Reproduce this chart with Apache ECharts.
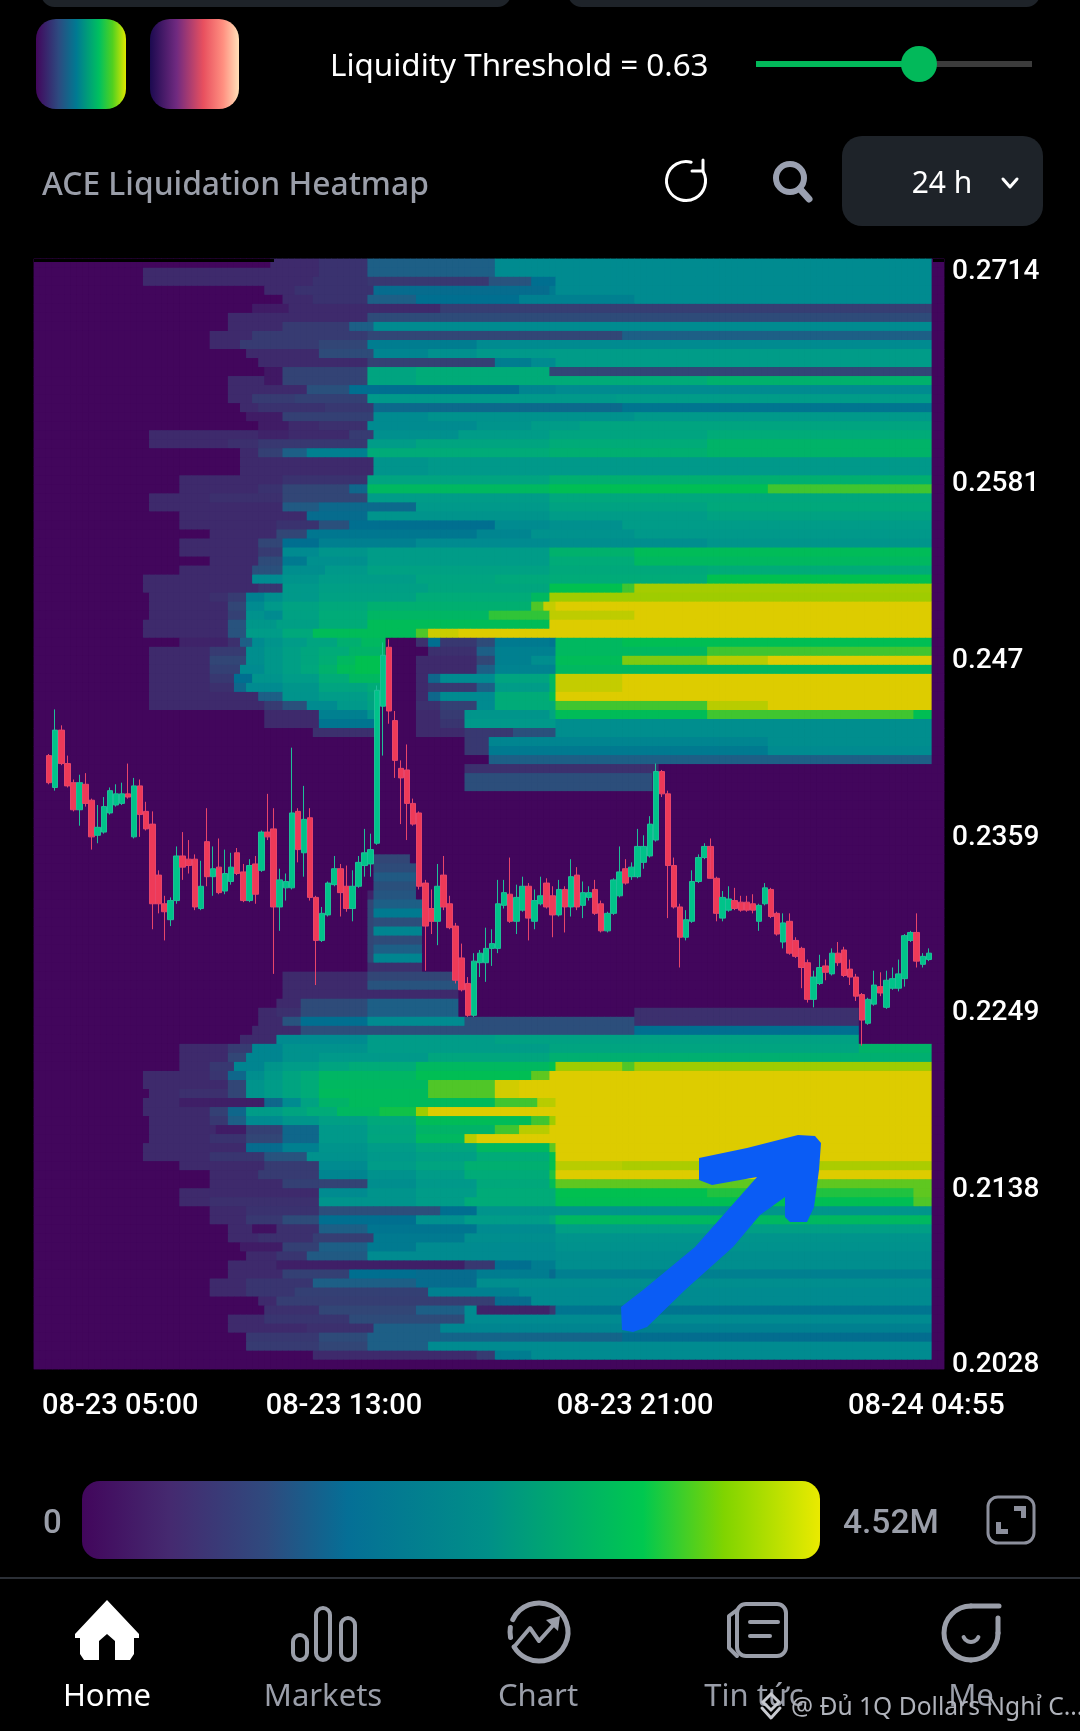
<!DOCTYPE html>
<html><head><meta charset="utf-8">
<style>html,body{margin:0;padding:0;background:#000}#c{width:1080px;height:1731px}</style>
<script src="https://cdn.jsdelivr.net/npm/echarts@6/dist/echarts.min.js"></script>
</head><body><div id="c"></div>
<script>
// 10-minute columns across the 24 h window
const columnCount = 150;
const lastDataColumn = 147;
const xTickColumns = [3, 51, 99, 147];
const xTickLabels = ['08-23 05:00', '08-23 13:00', '08-23 21:00', '08-24 04:55'];
const yTickValues = [0.2028, 0.2138, 0.2249, 0.2359, 0.247, 0.2581, 0.2714];
// colour levels (0 = empty … 10 = above threshold); each row from the top: [startColumn, level, ...]
const levelColors = ['#42065c','#3e2a6c','#324676','#1d5f86','#006f90','#008b90','#009c88','#00ab78','#00c050','#9fcc00','#ddcc00'];
const liquidityRows = [
[39,1,47,1.3,55,3,76,5],
[18,1,47,1.3,55,3,76,5],
[18,1,46,1.3,55,1.5,75,2.5,82,4,86,5],
[38,1,43,1.3,56,3.8,85,4.4,86,5],
[41,1,46,1.3,55,3,63,4,80,4.6,99,5],
[36,0.6,42,1,67,1.7],
[32,1,55,2.2],
[32,1,41,1.6,52,3,56,5],
[29,1,36,1.6,55,2,97,3],
[29,1,34,1.6,47,2,55,4.5,73,5],
[35,1,47,2.2,56,4.8,65,5.3,73,5.8,85,6],
[37,1,55,1.8,76,4.5,82,5,86,6],
[38,0.5,41,1.9,55,6.5,63,7,85,2],
[32,1,38,0.5,41,1.9,55,6.5,63,7,111,7.3],
[32,1,45,2.4,52,4,80,4.8,86,5],
[32,1,36,1.6,43,1.8,55,5.8,96,6],
[34,1,37,1.3,48,1.5,56,3.6,97,4.2],
[35,0.6,41,1.8,56,5,65,5.4,99,5.8],
[37,0.6,42,1,47,1.2,55,5,73,5.5,82,6,90,6.5],
[19,1,37,0.8,42,1,52,1.6,56,5.3,70,6,85,6.5,111,7],
[19,1,32,1.2,37,1.5,55,6,63,6.5,85,7,111,7.4],
[34,1,37,1.8,41,3,45,4.6,55,7,85,7.2,111,7.4],
[34,1,56,5.5,65,5.8],
[34,1,56,5.5,65,5.8],
[24,1,41,1.3,55,6.5,85,7.2],
[24,1,37,1.3,41,2,52,3.5,55,7.6,85,7.9,121,8.4],
[19,1,29,1.2,41,2,55,6,85,6.7],
[19,1,41,2.8,47,3.6,63,5.8,85,6.4,111,6.8],
[24,1,45,3.8,55,5.5,85,6,111,6.4],
[24,1,40,1.3,47,2.4,52,4,76,5,85,5.3,97,6],
[29,1,40,2,45,4.3,73,4.8,82,5.4,99,5.8],
[24,1,37,2,41,4,47,4.6,63,5,85,5.2,111,5.6],
[24,1,37,1.6,41,5,47,5.6,55,6,85,7.3,99,7.8],
[29,1,37,2.2,41,4.4,45,5.3,55,6,85,7,99,7.6],
[24,1,36,2.4,41,5.2,48,5.8,55,6.3,85,6.8,111,7],
[18,1,36,5,41,5.5,47,6,63,6.5,76,6.8,85,7,111,8],
[18,1,37,1.4,41,5.8,47,6.2,65,6.6,85,8,97,8.4,99,9.1],
[19,1,29,1.2,32,1.6,35,4.6,38,5.2,41,5.8,47,6.3,63,7,82,7.6,85,9],
[19,1,32,2,35,5,38,5.8,41,6.4,47,6.8,55,7.2,82,8.5,84,9.6,86,10],
[19,1,32,1.8,35,5.4,38,5,41,6.3,47,7,55,7.5,75,8.3,85,9.5,99,10],
[18,1,32,2.5,35,5.7,40,6.2,47,7,55,7.8,85,10],
[18,1,32,2.5,35,6,41,6.8,46,7.8,63,8.5,65,9.7,70,10],
[24,0.8,32,1.2,34,3,36,5,38,5.5,41,6,45,6.5,50,7.2,54,7.6,58,0,63,1.2,65,4,67,1.5,73,2.2,76,4.4,85,4.2,86,7.6,97,7.9],
[19,1,29,1.6,35,5.2,38,5.7,41,6.2,44,6.6,47,7,52,7.4,58,0,65,1.2,73,3,76,4.6,86,7.6,111,8.4],
[19,1,29,2,35,5.2,38,5.7,41,6.2,44,6.6,47,7.1,50,7.6,53,8,58,0,63,1,73,2,76,4.6,82,5.2,86,7.8,97,8.8,111,9.4,121,10],
[19,1,29,1.8,34,5,38,5.7,41,6.2,44,6.7,47,7.3,50,7.8,53,8,58,0,63,1,73,3,76,4.7,86,7.6],
[19,1,29,1.5,33,4,36,5.5,41,6,47,7,52,7.6,58,0,63,1,65,3.5,67,5,76,6.5,85,7.6,86,9.6,97,10],
[19,1,29,1.2,33,3.5,35,5,41,5.6,47,6.5,55,7,58,0,63,1,65,1.5,73,3,76,6,85,7.5,86,9.6,97,10],
[19,1,37,3,41,5.5,47,6,55,6.6,58,0,63,1,65,3.5,67,5,76,7,85,7.9,86,10],
[19,1,34,1,38,1.6,41,2.4,45,5,50,5.8,55,6.4,57,0,63,1.2,67,1.8,73,5,76,7,86,8.4,111,9.4,121,10],
[38,1,47,4.6,55,5.5,57,0,63,1,67,1.6,71,5.6,85,6.5,86,7.8,111,8.4,145,7.9],
[38,1,47,4.2,57,0,63,1,67,1.4,71,5.8,86,5.2],
[46,1.2,57,0,63,1,71,1.5,79,2.4,86,5.2],
[71,1.5,75,4.8,121,5.2],
[71,1.5,75,4.4,121,5],
[75,3],
[71,1.2,103,0],
[71,2.3,102,0],
[71,2.3,102,0],
[],[],[],[],[],[],[],
[56,2,62,0],
[56,2.2,63,0],
[56,2.8,63,0],
[56,2.4,63,0],
[55,0.8,56,2.6,63,0],
[55,2,56,3,64,0],
[55,2,56,4.4,64,0],
[55,2,56,2.3,64,0],
[55,2,56,4.8,64,0],
[55,2,56,2.2,64,0],
[55,2,56,3,64,0],
[55,2,56,4.8,64,0],
[55,1.2,64,0],
[41,1,55,2,69,0],
[41,1,55,2.5,70,0],
[41,1,70,0],
[40,1,44,2.2,55,3,70,0],
[37,1,40,1.2,44,2.2,55,3,70,0,99,1.2,136,0],
[37,1,41,2.5,44,4,55,5,71,2.3,99,1.2,136,0],
[36,1,44,2.3,99,4,136,0],
[34,1,40,5,55,6,76,6.3,136,0],
[24,1,32,1.6,36,4.8,41,5.4,55,6,85,6.5,136,7.4],
[24,1,32,2,35,4.8,41,5.4,47,5.8,65,6.6,85,7.2],
[24,1,29,1.5,33,4.8,38,5.6,41,6,47,6.5,52,7,63,7.6,85,8,86,9,97,8.5,99,9],
[18,1,29,1.4,32,3.5,35,5.2,38,5.9,41,6.5,44,7,47,7.5,63,7.9,82,8.6,85,10],
[18,1,32,2,35,5.5,38,6,41,6.5,44,7,47,7.6,65,8.5,76,9.8,80,10],
[19,1,24,1.2,32,2,35,5.5,38,6,41,6.5,44,7,47,7.7,65,8.5,76,9.8,80,10],
[18,1,24,0.7,38,3.5,41,5,44,6.4,47,7.4,52,7.7,76,8.4,83,9.4,86,10],
[18,1,29,1.8,32,3.5,35,6,41,6.5,45,7,50,7.6,57,8.1,63,9,65,10],
[19,1,29,1.5,32,3,35,5,41,5.6,47,6.2,55,6.8,63,7.8,82,8.4,85,9,86,10],
[19,1,30,0.6,35,1.8,41,3.5,47,5.8,55,6.5,63,7.4,76,8.4,80,9.4,85,10],
[19,1,29,1.3,35,2,41,3.5,47,5.8,55,6.6,63,7.6,71,9.4,73,10],
[18,1,35,3.8,41,4.6,47,5.5,55,6,63,6.6,73,7.6,85,8.6,86,10],
[18,1,29,1.4,38,2.5,45,5.4,55,5.8,63,6.2,73,7,85,8,86,10],
[24,1,38,1.6,47,5,55,6,63,6.5,71,7.2,85,8,86,9.4,97,9.2],
[29,1,37,1.6,47,4.8,55,5.4,63,6,71,7,85,8.2,86,10],
[29,1,41,1.8,47,1.9,55,5.2,63,5.8,73,6.8,85,7.8,86,8.6],
[24,1,47,5,55,5.5,63,6,73,7,86,8,111,8.2,145,8.6],
[24,1,29,1.2,47,5.5,63,6,71,7,86,7.9,145,8.5],
[29,1,35,1.3,47,2.3,67,4,73,5.5,86,5.6],
[29,1,35,1.5,41,2.2,47,4,63,5.3,71,6,85,6.6,86,7.6],
[32,1,36,0.3,40,1.2,47,3,55,4.2,73,5,86,6.2],
[32,1,37,1.2,46,1.7,56,4.4,71,5.2,86,5.5],
[34,0.6,41,1.8,47,3,55,4.4,63,5,86,5.4],
[35,1,40,1.4,45,2.8,55,5,86,5.2],
[32,1,40,0.7,71,1.5,76,4,82,4.5,86,5.2],
[32,1,41,1.8,52,4,63,3.8,73,4.5,85,3.8,86,4.6],
[29,1,35,1.4,46,3,63,3.8,73,5.2],
[29,1,35,1.4,43,1.8,65,4.6,80,5],
[37,1,40,1.7,76,3.8,82,5],
[38,1.2,47,2,63,3,71,5,73,0.8,85,1.5,86,4.2],
[32,1,38,1.4,52,2.2,71,5],
[32,1,45,1.2,56,3,67,4.8,97,4.6],
[35,1.5,47,2.2,55,3,67,3.3,97,3.9],
[35,1.6,47,2,55,3,65,5],
[46,1,73,1.6,76,4.5,82,5],
[]
];
// candles start at column 2; prices are in units of 0.0001
const candleStartColumn = 2;
const candleOpen = [2409,2389,2425,2404,2392,2375,2391,2381,2359,2361,2373,2378,2379,2385,2358,2390,2374,2366,2334,2316,2306,2318,2346,2344,2344,2313,2355,2333,2339,2324,2330,2348,2336,2318,2341,2337,2361,2363,2314,2326,2326,2374,2348,2370,2320,2293,2309,2328,2338,2327,2313,2327,2340,2341,2354,2440,2477,2431,2401,2400,2379,2373,2329,2313,2305,2334,2316,2302,2282,2266,2246,2279,2279,2288,2288,2315,2322,2305,2312,2327,2305,2316,2329,2321,2309,2325,2314,2334,2315,2320,2325,2316,2299,2310,2321,2338,2333,2333,2342,2346,2356,2399,2385,2340,2314,2295,2305,2330,2345,2352,2332,2307,2312,2318,2317,2317,2316,2305,2316,2325,2310,2292,2305,2293,2288,2279,2256,2266,2277,2272,2285,2287,2275,2270,2259,2241,2253,2264,2251,2263,2263,2269,2293,2298,2278,2281];
const candleClose = [2392,2425,2404,2390,2375,2392,2379,2358,2364,2377,2387,2385,2385,2383,2390,2372,2363,2316,2316,2311,2318,2346,2339,2340,2314,2327,2333,2338,2323,2335,2339,2335,2318,2340,2322,2361,2358,2314,2331,2330,2373,2350,2369,2320,2293,2310,2329,2338,2323,2313,2327,2342,2348,2350,2450,2472,2437,2406,2395,2379,2366,2327,2302,2305,2327,2314,2301,2268,2262,2246,2280,2285,2288,2291,2316,2323,2305,2320,2327,2307,2318,2321,2314,2309,2325,2314,2333,2314,2323,2323,2310,2299,2310,2331,2336,2329,2339,2352,2352,2366,2399,2385,2340,2314,2295,2306,2330,2345,2352,2332,2310,2320,2319,2313,2312,2312,2312,2315,2326,2308,2297,2304,2285,2283,2276,2256,2270,2276,2273,2285,2279,2271,2270,2258,2243,2256,2265,2260,2268,2269,2272,2296,2298,2280,2283,2285];
const candleLow = [2391,2387,2403,2389,2374,2365,2377,2350,2354,2360,2372,2377,2378,2382,2357,2358,2362,2300,2310,2293,2302,2316,2331,2335,2312,2312,2327,2321,2322,2322,2328,2334,2317,2317,2316,2336,2356,2272,2299,2318,2325,2342,2333,2318,2265,2292,2308,2327,2308,2311,2305,2326,2333,2333,2353,2409,2429,2395,2366,2356,2365,2325,2274,2297,2290,2312,2300,2266,2261,2245,2245,2270,2267,2277,2285,2313,2304,2297,2311,2293,2300,2315,2313,2295,2308,2298,2308,2312,2307,2318,2309,2298,2298,2309,2320,2328,2331,2332,2338,2345,2355,2383,2307,2313,2276,2293,2304,2329,2344,2351,2305,2305,2311,2312,2311,2311,2310,2299,2315,2307,2296,2288,2284,2282,2263,2254,2251,2265,2268,2271,2277,2270,2265,2255,2227,2240,2252,2258,2250,2262,2261,2264,2292,2276,2276,2280];
const candleHigh = [2410,2438,2428,2409,2394,2397,2398,2382,2378,2383,2389,2391,2392,2404,2395,2394,2380,2374,2337,2321,2320,2352,2361,2356,2347,2343,2376,2352,2357,2350,2348,2351,2341,2344,2346,2362,2385,2376,2338,2335,2414,2376,2390,2376,2321,2314,2330,2346,2341,2340,2337,2346,2363,2360,2453,2480,2482,2437,2406,2416,2382,2374,2331,2325,2341,2346,2321,2304,2291,2270,2285,2287,2301,2300,2331,2331,2345,2328,2333,2329,2325,2333,2332,2327,2331,2327,2344,2339,2330,2327,2331,2318,2311,2332,2352,2344,2342,2363,2359,2371,2404,2400,2387,2345,2316,2312,2337,2347,2354,2357,2333,2324,2327,2326,2321,2321,2322,2316,2329,2326,2311,2310,2310,2295,2289,2281,2274,2284,2281,2288,2292,2289,2281,2272,2260,2257,2274,2273,2274,2276,2281,2297,2299,2310,2285,2288];

// scale of the price axis: the tick 0.2028 is near the bottom and 0.2714 near the top
const priceMin = 0.2024, priceMax = 0.27207;

const heatData = [];
liquidityRows.forEach((row, r) => {
  let level = 0, next = 0;
  for (let c = 0; c < columnCount; c++) {
    while (next < row.length && row[next] <= c) { level = row[next + 1]; next += 2; }
    heatData.push([c, r, c > lastDataColumn ? 0 : level]);
  }
});
const candleData = Array.from({length: columnCount}, (_, c) => {
  const i = c - candleStartColumn;
  if (i < 0 || i >= candleOpen.length) return ['-', '-', '-', '-'];
  return [candleOpen[i] / 1e4, candleClose[i] / 1e4, candleLow[i] / 1e4, candleHigh[i] / 1e4];
});

const FONT = 'Roboto';
const GREY = '#9a9ea9';
const txt = (x, y, text, fill, size, weight, align, family) => ({type:'text', x, y, z:20, style:{text, fill, fontSize:size, fontWeight:weight||400, fontFamily:family||FONT, align:align||'left', verticalAlign:'middle'}});
const grad = (stops) => new echarts.graphic.LinearGradient(0,0,1,0,stops.map(s=>({offset:s[0],color:s[1]})));
const rrect = (x,y,w,h,r,fill,extra) => Object.assign({type:'rect', z:20, shape:{x,y,width:w,height:h,r}, style:{fill}}, extra||{});
const strokeStyle = (c,w) => ({fill:'none', stroke:c, lineWidth:w, lineCap:'round', lineJoin:'round'});
const poly = (pts, style) => ({type:'polygon', z:20, shape:{points:pts}, style});
const line = (pts, c, w) => ({type:'polyline', z:20, shape:{points:pts}, style:strokeStyle(c,w)});
const ring = (cx,cy,r,c,w) => ({type:'circle', z:20, shape:{cx,cy,r}, style:{fill:'none',stroke:c,lineWidth:w}});
const arc = (cx,cy,r,a0,a1,c,w) => ({type:'arc', z:20, shape:{cx,cy,r,startAngle:a0,endAngle:a1,clockwise:true}, style:strokeStyle(c,w)});

const graphics = [
  // edges of the panels above
  rrect(41,-20,470,27,16,'#1e2329'), rrect(568,-20,472,27,16,'#1e2329'),
  // swatches
  rrect(36,19,90,90,20,grad([[0,'#42065c'],[0.25,'#2d4a80'],[0.45,'#007a92'],[0.7,'#00c060'],[0.85,'#50d020'],[1,'#e0e800']])),
  rrect(150,19,89,90,20,grad([[0,'#1c0a50'],[0.3,'#702a80'],[0.6,'#e8505f'],[0.82,'#ff8f80'],[1,'#ffe0b8']])),
  // threshold slider
  txt(330,67,'Liquidity Threshold = 0.63','#ffffff',31.4,400,'left','Noto Sans'),
  rrect(756,61,276,6,0,'#3c3c3c'),
  rrect(756,61,163,6,0,'#02b95a'),
  {type:'circle', z:21, shape:{cx:919,cy:64,r:18}, style:{fill:'#02b95a'}},
  // header
  txt(42,186,'ACE Liquidation Heatmap',GREY,31.8,500,'left','Noto Sans'),
  arc(686,181,19.5,-0.5,4.98,'#ffffff',3),
  line([[703,160],[703,171],[692,171]],'#ffffff',3),
  ring(790,178,14,'#9aa0b0',6),
  line([[800,189],[809,199]],'#9aa0b0',7),
  rrect(842,136,201,90,20,'#1e2329'),
  txt(942,184,'24 h','#ffffff',30,400,'center','Noto Sans'),
  line([[1003,179],[1010,187],[1017,179]],'#ffffff',3),
  // colour legend
  txt(43,1525,'0',GREY,33,500),
  rrect(82,1481,738,78,18,grad([[0,'#42065c'],[0.12,'#452a70'],[0.25,'#2f4a7e'],[0.36,'#056f96'],[0.55,'#008f88'],[0.76,'#00c850'],[0.87,'#80d400'],[1,'#eaea00']])),
  txt(843,1525,'4.52M',GREY,33.5,500),
  {type:'rect', z:20, shape:{x:988,y:1497,width:46,height:46,r:10}, style:{fill:'none',stroke:'#8c8f9c',lineWidth:3}},
  poly([[1014,1506],[1026,1506],[1026,1518],[1021,1518],[1021,1511],[1014,1511]],{fill:'#8c8f9c'}),
  poly([[996,1522],[1001,1522],[1001,1529],[1008,1529],[1008,1534],[996,1534]],{fill:'#8c8f9c'}),
  {type:'rect', z:20, shape:{x:0,y:1577,width:1080,height:2}, style:{fill:'#2b2f36'}},
  // navigation bar
  poly([[107,1600],[139,1634],[139,1638],[134,1638],[134,1654],[130,1660],[115,1660],[115,1641],[107,1634],[99,1641],[99,1660],[84,1660],[80,1654],[80,1638],[75,1638],[75,1634]],{fill:'#ffffff'}),
  txt(107,1697,'Home','#ffffff',31,400,'center','Noto Sans'),
  rrect(293,1635,14,25,7,'none',{style:{fill:'none',stroke:GREY,lineWidth:4}}),
  rrect(316,1608,14,52,7,'none',{style:{fill:'none',stroke:GREY,lineWidth:4}}),
  rrect(341,1618,14,42,7,'none',{style:{fill:'none',stroke:GREY,lineWidth:4}}),
  txt(323,1697,'Markets',GREY,31,400,'center','Noto Sans'),
  arc(539,1632,29,-2.7,2.6,GREY,5),
  arc(539,1632,29,2.95,3.3,GREY,5),
  line([[514,1647],[530,1628],[539,1641],[556,1622]],GREY,4),
  poly([[546,1620],[560,1616],[558,1631]],{fill:GREY}),
  txt(538,1697,'Chart',GREY,31,400,'center','Noto Sans'),
  rrect(737,1604,49,52,9,'none',{style:{fill:'none',stroke:GREY,lineWidth:4}}),
  line([[737,1610],[729,1616],[729,1648],[737,1656]],GREY,4),
  line([[750,1622],[778,1622]],GREY,4),line([[750,1636],[770,1636]],GREY,4),
  txt(754,1697,'Tin tức',GREY,31,400,'center','Noto Sans'),
  arc(971,1633,27,0,1.57,GREY,5),
  arc(971,1633,27,1.57,4.71,GREY,5),
  line([[971,1606],[999,1606]],GREY,5),
  line([[998,1633],[998,1618]],GREY,5),
  arc(971,1634,8,0.4,2.74,GREY,4),
  txt(971,1697,'Me',GREY,31,400,'center','Noto Sans'),
  // watermark
  poly([[771,1694],[779,1702],[771,1710],[763,1702]],{fill:'none',stroke:'#c8cad0',lineWidth:3}),
  line([[762,1708],[771,1718],[780,1708]],'#c8cad0',3),
  {type:'text', z:22, x:791, y:1708, style:{text:'@ Đủ 1Q Dollars Nghỉ C...', fill:'#b0b3bb', fontSize:24.6, fontFamily:'Noto Sans', verticalAlign:'middle'}},
  // hand-drawn arrow on the picture
  poly([[621,1307],[643,1290],[695,1247],[757,1177],[712,1185],[699,1180],[699,1158],[747,1148],[798,1135],[815,1136],[821,1143],[819,1170],[814,1207],[807,1222],[790,1222],[785,1217],[785,1197],[760,1215],[733,1247],[685,1290],[647,1327],[633,1332],[622,1330]],{fill:'#0a5cf5'}),
  // the empty background starts 3px lower than the coloured cells
  {type:'rect', z:19, shape:{x:34,y:259,width:240,height:3}, style:{fill:'#000'}},
  {type:'rect', z:19, shape:{x:933,y:259,width:11,height:3}, style:{fill:'#000'}}
];

const chart = echarts.init(document.getElementById('c'), null, {renderer:'canvas', width:1080, height:1731});
// the heatmap is painted twice so that the anti-aliased cell seams do not let the black page show through
const heatSeries = (z) => ({type:'heatmap', xAxisIndex:0, yAxisIndex:0, data:heatData, progressive:0, emphasis:{disabled:true}, silent:true, z});
chart.setOption({
  animation:false,
  backgroundColor:'#000',
  grid:{left:34, right:136, top:259, bottom:362},
  visualMap:{show:false, type:'continuous', seriesIndex:[0,1], dimension:2, min:0, max:10, inRange:{color:levelColors}},
  xAxis:{
    type:'category', data:Array.from({length:columnCount},(_,i)=>i),
    axisLine:{show:false}, axisTick:{show:false}, splitLine:{show:false},
    axisLabel:{
      margin:23, color:'#fff', fontSize:29, fontWeight:500, fontFamily:FONT, hideOverlap:false,
      interval:(i)=>xTickColumns.includes(i),
      formatter:(v)=>{ const k=xTickColumns.indexOf(+v); if(k<0) return ''; return (k===0?'{first|':'{tick|')+xTickLabels[k]+'}'; },
      rich:{
        first:{color:'#fff',fontSize:29,fontWeight:500,fontFamily:FONT,padding:[0,0,0,130]},
        tick:{color:'#fff',fontSize:29,fontWeight:500,fontFamily:FONT,padding:[0,5,0,0]}
      }
    }
  },
  yAxis:[
    {type:'category', inverse:true, show:false, data:liquidityRows.map((_,i)=>i)},
    {type:'value', position:'right', min:priceMin, max:priceMax, scale:true,
     axisLine:{show:false}, axisTick:{show:false}, splitLine:{show:false},
     axisLabel:{margin:8, color:'#fff', fontSize:28, fontWeight:500, fontFamily:FONT, customValues:yTickValues,
       formatter:(v)=>'{p|'+v+'}', showMinLabel:true, showMaxLabel:true,
       rich:{p:{color:'#fff',fontSize:28,fontWeight:500,fontFamily:FONT,padding:[5,0,0,0]}}}}
  ],
  series:[
    heatSeries(1), heatSeries(2),
    {type:'candlestick', xAxisIndex:0, yAxisIndex:1, data:candleData, barWidth:6, z:5, silent:true, progressive:0,
     itemStyle:{color:'#00c389', color0:'#ee3a58', borderColor:'#1fbf98', borderColor0:'#e8456a', borderWidth:1}}
  ],
  graphic:graphics
});
</script></body></html>
